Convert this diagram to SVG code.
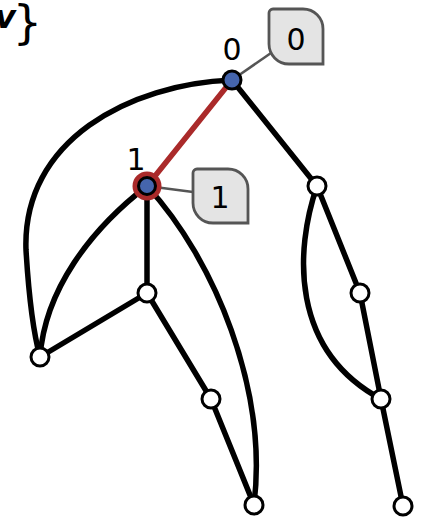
<svg xmlns="http://www.w3.org/2000/svg" width="424" height="519" viewBox="0 0 424 519">
<style>
.e{fill:none;stroke:#000;stroke-width:5.5;stroke-linecap:round}
.hl{fill:none;stroke:#aa2a2a;stroke-width:5.5;stroke-linecap:round}
.v{fill:#fff;stroke:#000;stroke-width:3}
.b{fill:#4565ad;stroke:#000;stroke-width:3}
.lab{font-family:"DejaVu Sans",sans-serif;font-size:30px;fill:#000;text-anchor:middle}
.box{fill:#e4e4e4;stroke:#555;stroke-width:2.8}
.cl{stroke:#555;stroke-width:2.5;fill:none}
</style>
<g id="title">
<text x="-5" y="28" font-family="DejaVu Sans,sans-serif"><tspan font-size="32" font-style="italic" font-weight="bold">v</tspan><tspan font-size="46" dx="-3" dy="10">}</tspan></text>
</g>
<g id="connectors">
<path class="e" d="M232,80 C130,84 22,140 26,250 C29,300 34,335 40,357"/>
<path class="e" d="M147,186 C90,230 45,290 40,357"/>
<path class="e" d="M147,186 C215,260 268,390 254,505"/>
<path class="e" d="M147,186 L147,293"/>
<path class="e" d="M147,293 L40,357"/>
<path class="e" d="M147,293 L211,399"/>
<path class="e" d="M211,399 L254,505"/>
<path class="e" d="M232,80 L317,186"/>
<path class="e" d="M317,186 L360,293"/>
<path class="e" d="M317,186 C295,250 290,350 381,399"/>
<path class="e" d="M360,293 L381,399"/>
<path class="e" d="M381,399 L403,506"/>
<path class="hl" d="M232,80 L147,186"/>
<path class="cl" d="M232,80 L271,53"/>
<path class="cl" d="M147,186 L193,192"/>
</g>
<g id="n0">
<circle class="b" cx="232" cy="80" r="9"/>
<text class="lab" x="232" y="60">0</text>
</g>
<g id="n1">
<circle cx="147" cy="186" r="14.5" fill="#aa2a2a"/>
<circle class="b" cx="147" cy="186" r="8.5"/>
<text class="lab" x="136" y="170">1</text>
</g>
<g id="n2"><circle class="v" cx="317" cy="186" r="9"/></g>
<g id="n3"><circle class="v" cx="147" cy="293" r="9"/></g>
<g id="n4"><circle class="v" cx="40" cy="357" r="9"/></g>
<g id="n5"><circle class="v" cx="360" cy="293" r="9"/></g>
<g id="n6"><circle class="v" cx="211" cy="399" r="9"/></g>
<g id="n7"><circle class="v" cx="381" cy="399" r="9"/></g>
<g id="n8"><circle class="v" cx="254" cy="505" r="9"/></g>
<g id="n9"><circle class="v" cx="403" cy="506" r="9"/></g>
<g id="callout0">
<path class="box" d="M273,9 H303 A20,20 0 0 1 323,29 V64 H289 A20,20 0 0 1 269,44 V13 A4,4 0 0 1 273,9 Z"/>
<text class="lab" x="296" y="50" font-size="32">0</text>
</g>
<g id="callout1">
<path class="box" d="M197,169 H228 A20,20 0 0 1 248,189 V223 H213 A20,20 0 0 1 193,203 V173 A4,4 0 0 1 197,169 Z"/>
<text class="lab" x="220" y="208" font-size="32">1</text>
</g>
</svg>
